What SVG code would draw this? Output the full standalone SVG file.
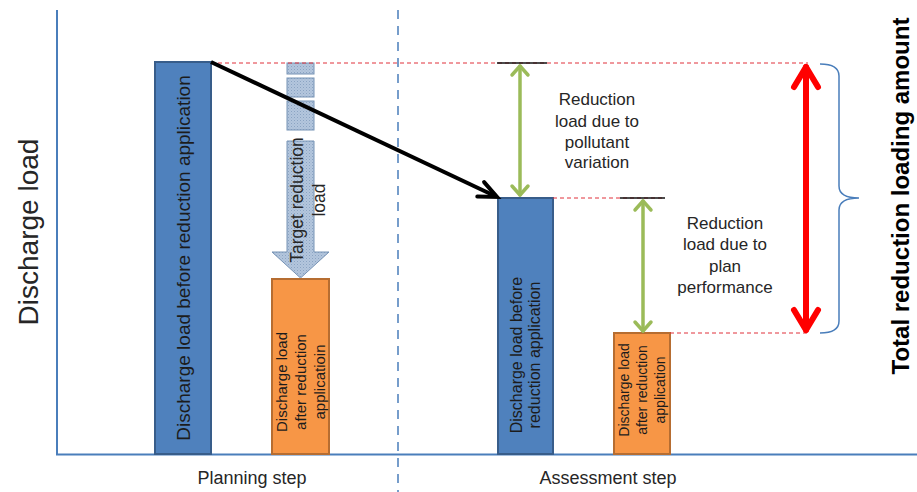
<svg xmlns="http://www.w3.org/2000/svg" width="917" height="492" viewBox="0 0 917 492">
<style>
text{font-family:"Liberation Sans",Arial,sans-serif;fill:#262626}
.axis{stroke:#4a7ebb;stroke-width:2;fill:none}
.blue{fill:#4f81bd;stroke:#385d8a;stroke-width:2}
.orange{fill:#f79646;stroke:#b66d31;stroke-width:2}
.rdash{stroke:#e0303a;stroke-width:1;stroke-dasharray:4,3;fill:none}
.green{stroke:#9bbb59;stroke-width:3.5;fill:none;stroke-linecap:round;stroke-linejoin:round}
.red{stroke:#ff0000;stroke-width:6;fill:none;stroke-linecap:round;stroke-linejoin:round}
.tgt{fill:url(#dots);stroke:#7793b5;stroke-width:1}
.bar{font-size:16px;fill:#1c1c1c}
.lbl{font-size:17px;text-anchor:middle}
</style>
<defs>
<pattern id="dots" width="3" height="3" patternUnits="userSpaceOnUse">
<rect width="3" height="3" fill="#b3c6dd"/>
<rect width="1" height="1" fill="#8ba3c2"/>
<rect x="1.5" y="1.5" width="1" height="1" fill="#9fb4d0"/>
</pattern>
</defs>

<g id="axes">
<line class="axis" x1="57" y1="10" x2="57" y2="455"/>
<line class="axis" x1="56" y1="454.5" x2="917" y2="454.5"/>
<line x1="398" y1="10" x2="398" y2="492" stroke="#4a7ebb" stroke-width="1.5" stroke-dasharray="9,7"/>
</g>

<g id="y-label">
<text transform="translate(28,232) rotate(-90)" text-anchor="middle" dy="10" font-size="28">Discharge load</text>
</g>

<g id="bar-plan-before">
<rect class="blue" x="155" y="62" width="56" height="392"/>
<text class="bar" transform="translate(183,258) rotate(-90)" text-anchor="middle" dy="6.5" font-size="19" style="font-size:19px">Discharge load before reduction application</text>
</g>

<g id="target-arrow">
<rect class="tgt" x="287" y="63" width="27" height="11"/>
<rect class="tgt" x="287" y="78" width="27" height="19"/>
<rect class="tgt" x="287" y="101" width="27" height="29"/>
<path class="tgt" d="M287,141 L314,141 L314,252 L329,252 L300.5,278 L272,252 L287,252 Z"/>
<text transform="translate(300,200) rotate(-90)" text-anchor="middle" style="font-size:17.5px"><tspan x="0" y="3">Target reduction</tspan><tspan x="0" y="25">load</tspan></text>
</g>

<g id="bar-plan-after">
<rect class="orange" x="272" y="279" width="57" height="175"/>
<text class="bar" transform="translate(300.5,382) rotate(-90)" text-anchor="middle" style="font-size:15px"><tspan x="0" y="-14">Discharge load</tspan><tspan x="0" y="5">after reduction</tspan><tspan x="0" y="24">applicatioin</tspan></text>
</g>

<g id="bar-assess-before">
<rect class="blue" x="498" y="198" width="55" height="256"/>
<text class="bar" transform="translate(525.5,355) rotate(-90)" text-anchor="middle" style="font-size:16px"><tspan x="0" y="-3.5">Discharge load before</tspan><tspan x="0" y="14.5">reduction application</tspan></text>
</g>

<g id="bar-assess-after">
<rect class="orange" x="614" y="333" width="56" height="121"/>
<text class="bar" transform="translate(642,390) rotate(-90)" text-anchor="middle" style="font-size:14px"><tspan x="0" y="-13">Discharge load</tspan><tspan x="0" y="5">after reduction</tspan><tspan x="0" y="23">application</tspan></text>
</g>

<g id="label-pollutant">
<text class="lbl"><tspan x="597" y="105">Reduction</tspan><tspan x="597" y="127">load due to</tspan><tspan x="597" y="148">pollutant</tspan><tspan x="597" y="168">variation</tspan></text>
</g>

<g id="label-plan">
<text class="lbl"><tspan x="725" y="229">Reduction</tspan><tspan x="725" y="250">load due to</tspan><tspan x="725" y="272">plan</tspan><tspan x="725" y="293">performance</tspan></text>
</g>

<g id="total-label">
<path d="M820,64 Q839,64 839,76 L839,186 Q839,198 859,198 Q839,198 839,210 L839,321 Q839,333 820,333" fill="none" stroke="#4a7ebb" stroke-width="1.5"/>
<text transform="translate(901,196) rotate(-90)" text-anchor="middle" dy="8" font-weight="bold" style="font-size:24px;fill:#000">Total reduction loading amount</text>
</g>

<g id="steps">
<text class="lbl" x="252" y="484" style="font-size:18px">Planning step</text>
<text class="lbl" x="608" y="484" style="font-size:18px">Assessment step</text>
</g>

<g id="connectors">
<line class="rdash" x1="211" y1="63" x2="808" y2="63"/>
<line class="rdash" x1="553" y1="198" x2="665" y2="198"/>
<line class="rdash" x1="670" y1="333" x2="808" y2="333"/>
<line x1="497" y1="63" x2="547" y2="63" stroke="#111" stroke-width="1.5"/>
<line x1="620" y1="198" x2="665" y2="198" stroke="#111" stroke-width="1.5"/>
<line x1="211" y1="62" x2="495" y2="196" stroke="#000" stroke-width="4"/>
<polyline points="477.3,196.5 497,197 484.1,182.1" fill="none" stroke="#000" stroke-width="4" stroke-linecap="round" stroke-linejoin="miter"/>
<line class="green" x1="520" y1="66" x2="520" y2="195"/>
<polyline class="green" points="512,75 520,66 528,75"/>
<polyline class="green" points="512,186 520,195 528,186"/>
<line class="green" x1="643" y1="201" x2="643" y2="331"/>
<polyline class="green" points="635,210 643,201 651,210"/>
<polyline class="green" points="635,322 643,331 651,322"/>
<line class="red" x1="806" y1="67" x2="806" y2="330"/>
<polyline class="red" points="794,87 806,67 818,87"/>
<polyline class="red" points="794,310 806,330 818,310"/>
</g>
</svg>
